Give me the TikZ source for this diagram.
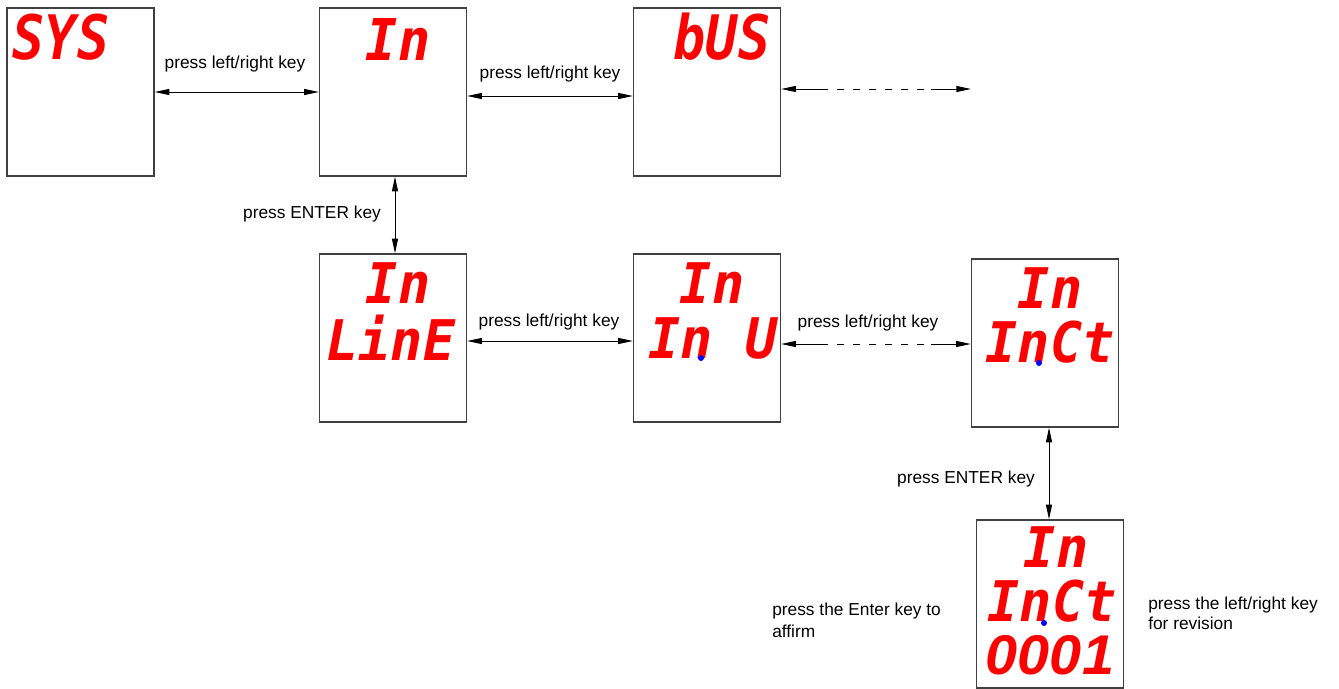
\documentclass[tikz,border=0pt]{standalone}
\usepackage{fontspec}
\usepackage{graphicx}
\setmainfont{Liberation Sans}
\newfontfamily\seg{DejaVu Sans Mono}
\usetikzlibrary{arrows.meta,calc}
\begin{document}
\begin{tikzpicture}[x=0.75pt,y=-0.75pt,
  scr/.style={draw=black!75,line width=1pt,minimum width=110.25pt,minimum height=126pt,inner sep=0pt},
  lbl/.style={font=\fontsize{13}{16}\selectfont,inner sep=0pt},
  dig/.style={text=red,inner sep=0pt,font=\seg\bfseries\itshape\fontsize{40}{40}\selectfont},
  num/.style={text=red,inner sep=0pt,font=\bfseries\itshape\fontsize{40}{40}\selectfont},
  tip/.tip={Triangle[length=11pt,width=4.5pt]},
  con/.style={line width=0.75pt,tip-tip},
  conl/.style={line width=0.75pt,tip-},
  conr/.style={line width=0.75pt,-tip},
  dsh/.style={line width=0.75pt,dash pattern=on 5pt off 7pt},
  bdot/.style={fill=blue,circle,inner sep=0pt,minimum size=4.5pt}]
\useasboundingbox (0,0) rectangle (1339,689);

% screens
\node[scr] (sys)  at (80.5,92) {};
\node[scr] (in)   at (393,92) {};
\node[scr] (bus)  at (707,92) {};
\node[scr] (line) at (393,338) {};
\node[scr] (inu)  at (707,338) {};
\node[scr] (inct) at (1045,343) {};
\node[scr] (set)  at (1050,604) {};

% display texts
\node[dig] (tsys) at (61,37) {\scalebox{1}[1.15]{SYS}};
\node[dig] (tin) at (398,40) {\scalebox{1}[1.08]{In}};
\node[dig] (tbus) at (722,37) {\scalebox{1}[1.15]{bUS}};
\node[dig] (tl1) at (398,283) {\scalebox{1}[1.05]{In}};
\node[dig] (tl2) at (391,338) {\scalebox{1}[1.05]{LinE}};
\node[dig] (tu1) at (712,283) {\scalebox{1}[1.05]{In}};
\node[dig] (tu2) at (713,338) {\scalebox{1}[1.05]{In U}};
\node[dig] (tc1) at (1050,288) {\scalebox{1}[1.05]{In}};
\node[dig] (tc2) at (1050,342.5) {\scalebox{1}[1.05]{InCt}};
\node[dig] (ts1) at (1056,547) {\scalebox{1}[1.05]{In}};
\node[dig] (ts2) at (1052,601) {\scalebox{1}[1.05]{InCt}};
\node[num] (ts3) at (1050,655) {\scalebox{1.08}[1.05]{0001}};
\node[bdot] (d1) at (701,358) {};
\node[bdot] (d2) at (1039,363) {};
\node[bdot] (d3) at (1044,623) {};

% connectors
\draw[con] (sys.east) -- (in.west);
\draw[con] ($(in.east)+(0,4)$) -- ($(bus.west)+(0,4)$);
\coordinate (busR) at (971,89);
\draw[conl] ($(bus.east)+(0,-3)$) -- ++(40,0) coordinate (b1);
\draw[dsh] (b1) -- ($(busR)+(-40,0)$) coordinate (b2);
\draw[conr] (b2) -- (busR);
\draw[con] ($(in.south)+(2,0)$) -- ($(line.north)+(2,0)$);
\draw[con] ($(line.east)+(0,3)$) -- ($(inu.west)+(0,3)$);
\draw[conl] ($(inu.east)+(0,6)$) -- ++(40,0) coordinate (c1);
\draw[conr] ($(inct.west)+(-40,1)$) coordinate (c2) -- ($(inct.west)+(0,1)$);
\draw[dsh] (c1) -- (c2);
\draw[con] ($(inct.south)+(4,0)$) -- ($(set.north)+(-1,0)$);

% labels
\node[lbl] (l1) at (235,64) {press left/right key};
\node[lbl] (l2) at (550,74) {press left/right key};
\node[lbl] (l3) at (549,322) {press left/right key};
\node[lbl] (l4) at (868,323) {press left/right key};
\node[lbl] (l5) at (312,214) {press ENTER key};
\node[lbl] (l6) at (966,479) {press ENTER key};
\node[lbl,align=left,anchor=north west,font=\fontsize{13}{16.5}\selectfont] (l7) at (772,603) {press the Enter key to\\affirm};
\node[lbl,align=left,anchor=north west,font=\fontsize{13}{15}\selectfont] (l8) at (1148,597) {press the left/right key\\for revision};
\end{tikzpicture}
\end{document}
